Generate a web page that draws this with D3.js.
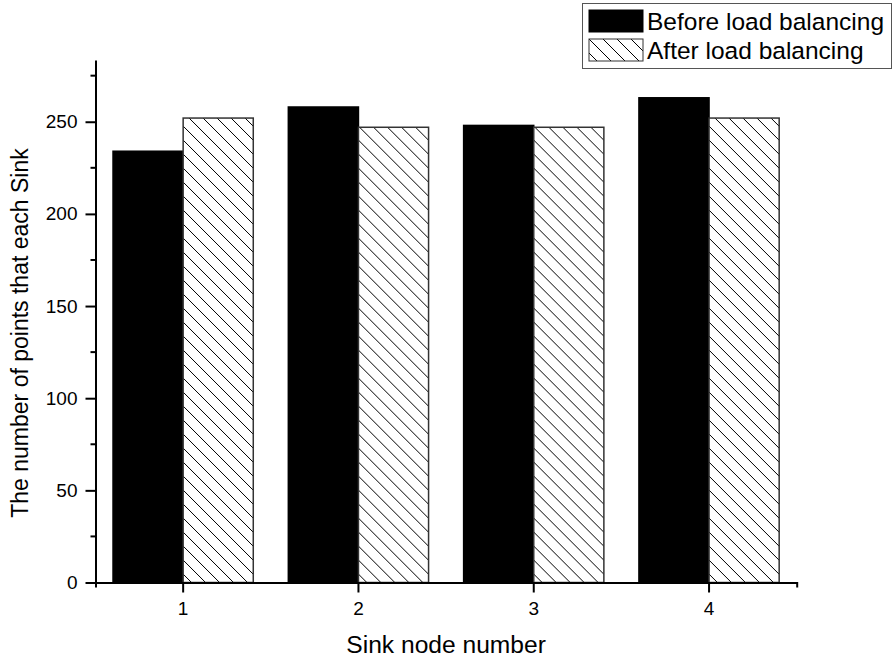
<!DOCTYPE html>
<html>
<head>
<meta charset="utf-8">
<script src="https://cdn.jsdelivr.net/npm/d3@7"></script>
<style>
body { margin: 0; background: #fff; }
text { font-family: Arial, "Liberation Sans", sans-serif; fill: #000; }
</style>
</head>
<body>
<script>
var width = 893,
	height = 660;

// data
var categories = ["1", "2", "3", "4"];
var series = ["Before load balancing", "After load balancing"];
var before = [234, 258, 248, 263];
var after = [252, 247, 247, 252];
var yTicks = [0, 50, 100, 150, 200, 250];
var yMinor = [25, 75, 125, 175, 225, 275];

var svg = d3.select("body").append("svg").attr("width", width).attr("height", height);

var defs = svg.append("defs");
var pat = defs.append("pattern").attr("id", "hatch").attr("patternUnits", "userSpaceOnUse")
	.attr("width", 14).attr("height", 14);
pat.append("rect").attr("width", 14).attr("height", 14).attr("fill", "#fff");
pat.append("path").attr("d", "M-1,-1 L15,15 M-8,6 L1,15 M6,-8 L15,1")
	.attr("stroke", "#000").attr("stroke-width", 1).attr("fill", "none");

var pLeft = 95.5, pRight = 796.7, pTop = 60, pBottom = 582.5;

var X = d3.scaleBand().domain(categories).range([pLeft, pRight]).paddingInner(0.2).paddingOuter(0.1);
var Xs = d3.scaleBand().domain(series).range([0, X.bandwidth()]);
var Y = d3.scaleLinear().domain([0, 283.5]).range([pBottom, pTop]);

var data = categories.map(function(c, i) {
	return { cat: c, values: [ { s: series[0], v: before[i] }, { s: series[1], v: after[i] } ] };
});

var g = svg.selectAll(".grp").data(data).enter().append("g").attr("class", "grp")
	.attr("transform", function(d) { return "translate(" + X(d.cat) + ",0)"; });

g.selectAll("rect").data(function(d) { return d.values; }).enter().append("rect")
	.attr("x", function(d) { return Xs(d.s); })
	.attr("y", function(d) { return Y(d.v); })
	.attr("width", Xs.bandwidth())
	.attr("height", function(d) { return Y(0) - Y(d.v); })
	.attr("fill", function(d, i) { return i == 0 ? "#000" : "url(#hatch)"; })
	.attr("stroke", function(d, i) { return i == 0 ? "#000" : "#333"; })
	.attr("stroke-width", 1.5);

// axes
var xAxis = svg.append("g").attr("transform", "translate(0," + pBottom + ")")
	.call(d3.axisBottom(X).tickSize(10).tickSizeOuter(5).tickPadding(9));

var yAxis = svg.append("g").attr("transform", "translate(" + pLeft + ",0)")
	.call(d3.axisLeft(Y).tickValues(yTicks).tickSize(10).tickSizeOuter(0).tickPadding(8));

yAxis.selectAll(".minor").data(yMinor).enter().append("line").attr("class", "minor")
	.attr("x1", -5).attr("x2", 0)
	.attr("y1", function(d) { return Y(d); }).attr("y2", function(d) { return Y(d); })
	.attr("stroke", "#000").attr("stroke-width", 2);

svg.selectAll(".domain, .tick line").attr("stroke", "#000").attr("stroke-width", 2);
svg.selectAll(".tick text").style("font-size", "19px").attr("font-family", null);

// titles
svg.append("text").attr("x", (pLeft + pRight) / 2).attr("y", 653).attr("text-anchor", "middle")
	.style("font-size", "24.6px").text("Sink node number");

svg.append("text").attr("transform", "translate(28,333) rotate(-90)").attr("text-anchor", "middle")
	.style("font-size", "23px").text("The number of points that each Sink");

// legend
var lg = svg.append("g");
lg.append("rect").attr("x", 582.5).attr("y", 3.5).attr("width", 309).attr("height", 65)
	.attr("fill", "#fff").attr("stroke", "#555").attr("stroke-width", 1);
var items = lg.selectAll(".item").data(series).enter().append("g").attr("class", "item")
	.attr("transform", function(d, i) { return "translate(589," + (10 + i * 29) + ")"; });
items.append("rect").attr("width", 54).attr("height", 22)
	.attr("fill", function(d, i) { return i == 0 ? "#000" : "url(#hatch)"; })
	.attr("stroke", function(d, i) { return i == 0 ? "#000" : "#333"; })
	.attr("stroke-width", 1);
items.append("text").attr("x", 58).attr("y", 20).style("font-size", "24.5px")
	.text(function(d) { return d; });
</script>
</body>
</html>
